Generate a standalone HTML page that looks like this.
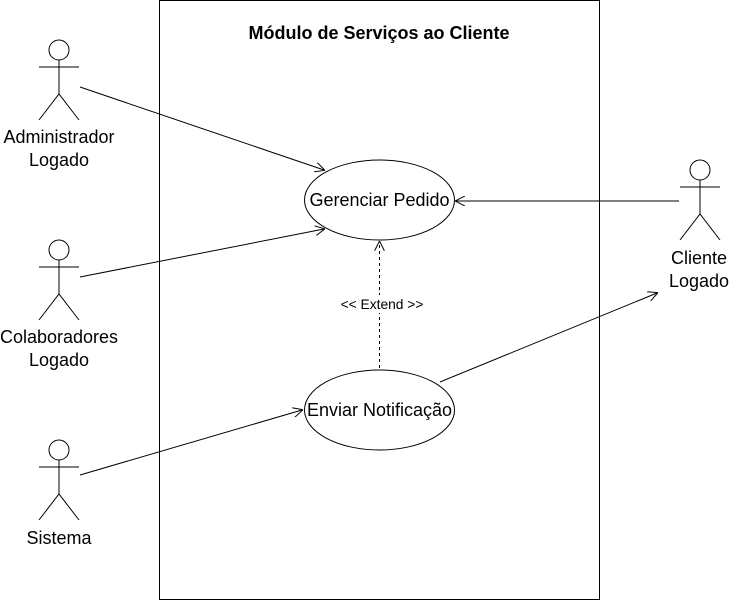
<!DOCTYPE html>
<html><head><meta charset="utf-8"><style>
body{margin:0;background:#fff}
svg text{font-family:"Liberation Sans",Helvetica,Arial,sans-serif;fill:#000}
</style></head><body>
<svg width="730" height="601" xmlns="http://www.w3.org/2000/svg">
<defs>
<marker id="a" viewBox="0 0 10 10" refX="9" refY="5" markerWidth="10" markerHeight="10" markerUnits="userSpaceOnUse" orient="auto">
<path d="M0,0 L10,5 L0,10" fill="none" stroke="#000" stroke-width="1"/>
</marker>
</defs>
<rect x="159.5" y="0.5" width="440" height="599" fill="#fff" stroke="#000"/>
<text x="379" y="39" font-size="18" font-weight="bold" text-anchor="middle">Módulo de Serviços ao Cliente</text>
<g fill="none" stroke="#000">
<ellipse cx="379.5" cy="200" rx="75" ry="40" fill="#fff"/>
<ellipse cx="379.5" cy="410" rx="75" ry="40" fill="#fff"/>
<g id="act">
<circle cx="59" cy="50" r="10" fill="#fff"/>
<path d="M59 60 V94 M39 67 H79 M39 120 L59 94 L79 120"/>
</g>
<use href="#act" y="200"/>
<use href="#act" y="400"/>
<use href="#act" x="641" y="120"/>
<path d="M80 87 L324 170" marker-end="url(#a)"/>
<path d="M80 277 L324 229" marker-end="url(#a)"/>
<path d="M80 475 L302 410" marker-end="url(#a)"/>
<path d="M679 201 L456 201" marker-end="url(#a)"/>
<path d="M440 382 L657 293" marker-end="url(#a)"/>
<path d="M379.5 368 L379.5 242" stroke-dasharray="3 3" marker-end="url(#a)"/>
</g>
<rect x="336" y="295" width="92" height="18" fill="#fff"/>
<text x="382" y="309" font-size="13.8" text-anchor="middle">&lt;&lt; Extend &gt;&gt;</text>
<text x="379.5" y="206" font-size="18" text-anchor="middle">Gerenciar Pedido</text>
<text x="379.5" y="416" font-size="18" text-anchor="middle">Enviar Notificação</text>
<g font-size="18" text-anchor="middle">
<text x="59" y="143">Administrador</text><text x="59" y="166">Logado</text>
<text x="59" y="343">Colaboradores</text><text x="59" y="366">Logado</text>
<text x="59" y="544">Sistema</text>
<text x="699" y="264">Cliente</text><text x="699" y="287">Logado</text>
</g>
</svg>
</body></html>
